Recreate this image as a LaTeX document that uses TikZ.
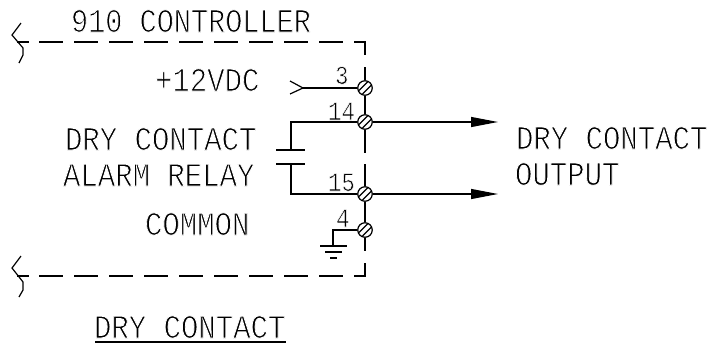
\documentclass[tikz,border=0pt]{standalone}
\usepackage{fontspec}
\setmainfont{Liberation Mono}
\usetikzlibrary{arrows.meta}
\newcommand{\thinned}[2]{\special{pdf:code q 2 Tr #1 w 1 1 1 RG}#2\special{pdf:code Q}}
\newcommand{\capstext}[2][1]{\scalebox{#1}[1.15]{\thinned{0.8}{#2}}}
\newcommand{\numtext}[1]{\scalebox{1.02}[1.2]{\thinned{0.5}{#1}}}
\tikzset{
  wire/.style={line width=1.2pt,line join=miter},
  bound/.style={line width=1.2pt,dash pattern=on 24pt off 11pt},
  screw/.style={circle,draw,line width=1.2pt,minimum size=14.5pt,inner sep=0pt,fill=white},
  lab/.style={anchor=base west,inner sep=0pt,outer sep=0pt,font=\fontsize{29}{29}\selectfont},
  numlab/.style={anchor=base west,inner sep=0pt,outer sep=0pt,font=\fontsize{22}{22}\selectfont},
  outwire/.style={wire,-{Triangle[length=27pt,width=10pt]}}
}
\begin{document}
\begin{tikzpicture}[x=1pt,y=-1pt]
\useasboundingbox (0,0) rectangle (710,343);
% terminals
\node[screw] (s3) at (365,88) {};
\node[screw] (s14) at (365,122) {};
\node[screw] (s15) at (365,194) {};
\node[screw] (s4) at (365,230) {};
\foreach \n in {s3,s14,s15,s4}{
  \draw[line width=1.1pt] ([shift={(-6,2.5)}]\n.center) -- ([shift={(2.5,-6)}]\n.center);
  \draw[line width=1.1pt] ([shift={(-2.5,6)}]\n.center) -- ([shift={(6,-2.5)}]\n.center);
}
% controller boundary
\coordinate (tl) at (39,42); \coordinate (tr) at (365,42);
\coordinate (bl) at (39,276); \coordinate (br) at (365,276);
\draw[bound] (tl) -- (tr) -- (365,55);
\draw[bound] (bl) -- (br) -- (365,262);
\draw[wire] (365,67) -- (s3);
\draw[wire] (s3) -- (s14);
\draw[wire] (s14) -- (365,153);
\draw[wire] (365,164) -- (s15);
\draw[wire] (s15) -- (s4);
\draw[wire] (s4) -- (365,251);
% break marks
\draw[wire] (21,23) -- (12,35) -- (23,48) -- (23,55) -- (19,63);
\draw[wire] (17,42) -- (29,42);
\draw[wire] (21,256) -- (12,268) -- (23,282) -- (23,290) -- (19,297);
\draw[wire] (17,276) -- (29,276);
% +12 input
\coordinate (ia) at (290,81); \coordinate (ib) at (303,88); \coordinate (ic) at (290,94);
\draw[wire] (ia) -- (ib) -- (ic);
\draw[wire] (ib) -- (s3);
% relay
\coordinate (ka) at (291,150); \coordinate (kb) at (291,164);
\draw[wire] (s14) -- (291,122) -- (ka);
\draw[wire] (s15) -- (291,194) -- (kb);
\draw[wire] (276,150) -- (305,150);
\draw[wire] (276,164) -- (305,164);
% outputs
\coordinate (o1) at (498,122); \coordinate (o2) at (498,194);
\draw[outwire] (s14) -- (o1);
\draw[outwire] (s15) -- (o2);
% ground
\coordinate (g) at (333,246);
\draw[wire] (s4) -- (333,230) -- (g);
\draw[wire] (320,246) -- (347,246);
\draw[wire] (325,252) -- (342,252);
\draw[wire] (330,258) -- (337,258);
% labels
\node[lab] (t910) at (71,32) {\capstext[0.985]{910 CONTROLLER}};
\node[lab] (t12) at (155,91) {\capstext{+12VDC}};
\node[lab] (tdry) at (65,150) {\capstext{DRY CONTACT}};
\node[lab] (talarm) at (63,186) {\capstext{ALARM RELAY}};
\node[lab] (tcom) at (145,235) {\capstext{COMMON}};
\node[lab] (tout1) at (516,149) {\capstext{DRY CONTACT}};
\node[lab] (tout2) at (515,185) {\capstext{OUTPUT}};
\node[lab] (tbot) at (94,338) {\capstext{DRY CONTACT}};
\draw[wire] (95,342) -- (286,342);
\node[numlab] (n3) at (335,84) {\numtext{3}};
\node[numlab] (n14) at (328,120) {\numtext{14}};
\node[numlab] (n15) at (328,191) {\numtext{15}};
\node[numlab] (n4) at (336,227) {\numtext{4}};
\end{tikzpicture}
\end{document}
